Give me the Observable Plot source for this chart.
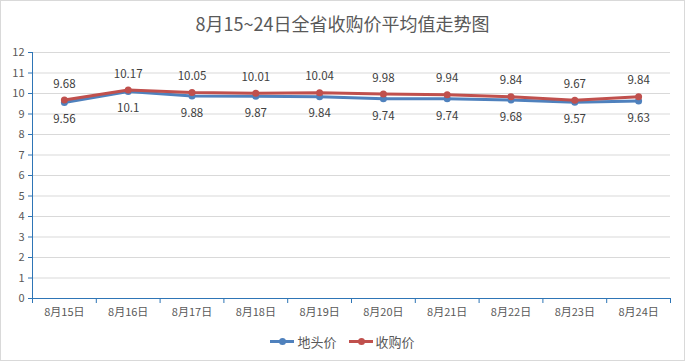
<!DOCTYPE html>
<html>
<head>
<meta charset="utf-8">
<script src="https://cdn.jsdelivr.net/npm/d3@7"></script>
<script src="https://cdn.jsdelivr.net/npm/@observablehq/plot@0.6"></script>
<style>
  body { margin: 0; background: #fff; }
  #chart { position: relative; width: 685px; height: 361px; box-sizing: border-box; border: 1px solid #d9d9d9; background: #fff; font-family: "Noto Sans CJK SC", "Noto Sans", sans-serif; overflow: hidden; }
  #title { position: absolute; top: 9px; left: 0; width: 100%; text-align: center; font-size: 18px; color: #595959; }
  #plot { position: absolute; top: 0; left: 0; }
  #legend { position: absolute; top: 331px; left: 0; width: 100%; display: flex; justify-content: center; align-items: center; font-size: 13px; color: #595959; }
  .item { display: flex; align-items: center; margin: 0 6px; }
  .sw { position: relative; width: 24px; height: 3px; margin-right: 3px; }
  .sw::after { content: ""; position: absolute; left: 9px; top: -2px; width: 7px; height: 7px; border-radius: 50%; background: inherit; }
</style>
</head>
<body>
<div id="chart">
  <div id="title">8月15~24日全省收购价平均值走势图</div>
  <div id="plot"></div>
  <div id="legend"></div>
</div>
<script>
const categories = ["8月15日","8月16日","8月17日","8月18日","8月19日","8月20日","8月21日","8月22日","8月23日","8月24日"];
const seriesNames = ["地头价", "收购价"];
const fieldPrice = [9.56, 10.1, 9.88, 9.87, 9.84, 9.74, 9.74, 9.68, 9.57, 9.63];
const purchasePrice = [9.68, 10.17, 10.05, 10.01, 10.04, 9.98, 9.94, 9.84, 9.67, 9.84];
const yTicks = [0,1,2,3,4,5,6,7,8,9,10,11,12];
const colors = ["#4f81bd", "#c0504d"];
const axisColor = "#2e75b6";
const textColor = "#595959";

const blue = categories.map((c, i) => ({i, cat: c, v: fieldPrice[i], s: seriesNames[0]}));
const red = categories.map((c, i) => ({i, cat: c, v: purchasePrice[i], s: seriesNames[1]}));
const idx = categories.map((c, i) => i);
const bounds = d3.range(-0.5, categories.length, 1);

const plot = Plot.plot({
  width: 683,
  height: 330,
  marginTop: 51,
  marginBottom: 33,
  marginLeft: 31,
  marginRight: 14,
  style: {fontFamily: '"Noto Sans CJK SC", "Noto Sans", sans-serif', background: "transparent"},
  x: {type: "linear", domain: [-0.5, categories.length - 0.5]},
  y: {domain: [0, 12]},
  marks: [
    Plot.gridY(yTicks, {stroke: "#d9d9d9", strokeOpacity: 1}),
    Plot.axisY(yTicks, {tickSize: 4, stroke: axisColor, tickPadding: 4, fontSize: 11, color: textColor, fill: textColor, label: null}),
    Plot.axisX(bounds, {tickSize: 5, stroke: axisColor, tickFormat: () => "", label: null}),
    Plot.axisX(idx, {tickSize: 0, tickPadding: 10, tickFormat: i => categories[i], fontSize: 11, fill: textColor, label: null}),
    Plot.ruleX([-0.5], {stroke: axisColor, strokeWidth: 1}),
    Plot.ruleY([0], {stroke: axisColor, strokeWidth: 1}),
    Plot.line(blue, {x: "i", y: "v", stroke: colors[0], strokeWidth: 3}),
    Plot.dot(blue, {x: "i", y: "v", fill: colors[0], r: 3.5}),
    Plot.line(red, {x: "i", y: "v", stroke: colors[1], strokeWidth: 3}),
    Plot.dot(red, {x: "i", y: "v", fill: colors[1], r: 3.5}),
    Plot.text(red, {x: "i", y: "v", text: d => String(d.v), dy: -16, fill: "#404040", fontSize: 11.5}),
    Plot.text(blue, {x: "i", y: "v", text: d => String(d.v), dy: 17, fill: "#404040", fontSize: 11.5})
  ]
});
document.getElementById("plot").appendChild(plot);

const legend = document.getElementById("legend");
seriesNames.forEach((n, k) => {
  const item = document.createElement("div");
  item.className = "item";
  const sw = document.createElement("span");
  sw.className = "sw";
  sw.style.background = colors[k];
  item.appendChild(sw);
  const t = document.createElement("span");
  t.textContent = n;
  item.appendChild(t);
  legend.appendChild(item);
});
</script>
</body>
</html>
